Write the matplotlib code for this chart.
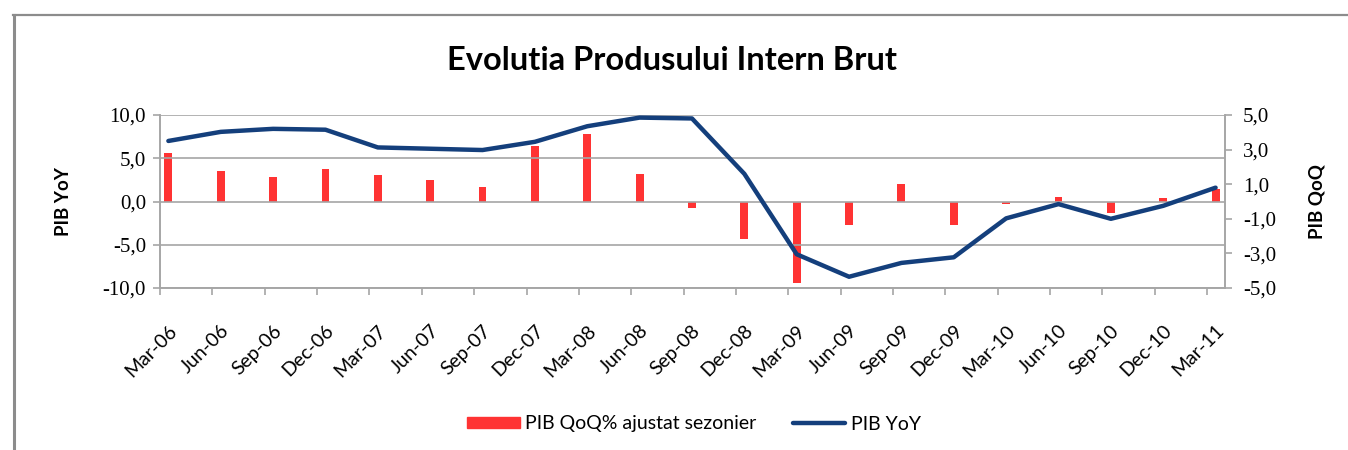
import numpy as np
import matplotlib.pyplot as plt
from matplotlib.lines import Line2D
from matplotlib.transforms import ScaledTranslation

# quarterly labels
quarters = ['Mar-06', 'Jun-06', 'Sep-06', 'Dec-06', 'Mar-07', 'Jun-07', 'Sep-07',
            'Dec-07', 'Mar-08', 'Jun-08', 'Sep-08', 'Dec-08', 'Mar-09', 'Jun-09',
            'Sep-09', 'Dec-09', 'Mar-10', 'Jun-10', 'Sep-10', 'Dec-10', 'Mar-11']

# PIB YoY (left axis, line)
pib_yoy = [7.0, 8.05, 8.4, 8.3, 6.25, 6.1, 5.95, 6.9, 8.7, 9.7, 9.6, 3.2,
           -6.1, -8.7, -7.1, -6.45, -1.95, -0.3, -2.0, -0.5, 1.6]

# PIB QoQ% ajustat sezonier (right axis, bars)
pib_qoq = [2.8, 1.75, 1.43, 1.88, 1.51, 1.22, 0.82, 3.23, 3.9, 1.59, -0.39, -2.19,
           -4.71, -1.36, 0.99, -1.38, -0.16, 0.24, -0.65, 0.18, 0.7]

left_ticks = [-10, -5, 0, 5, 10]
right_ticks = [-5, -3, -1, 1, 3, 5]

red = '#FF3333'
navy = '#143F7C'
grid_gray = '#A6A6A6'
label_font = 'Lato'
num_font = 'Liberation Serif'

fig = plt.figure(figsize=(13.48, 4.5), dpi=100)
ax = fig.add_axes([160 / 1348, 1 - 288 / 450, (1225 - 160) / 1348, (288 - 115) / 450])
ax2 = ax.twinx()

x = np.arange(len(quarters))
ax2.bar(x, pib_qoq, width=0.15, color=red, zorder=2)
ax.plot(x, pib_yoy, color=navy, lw=3.2, solid_capstyle='round', solid_joinstyle='round', zorder=3)

# line axis drawn above bars
ax.set_zorder(ax2.get_zorder() + 1)
ax.patch.set_visible(False)

ax.set_ylim(-10, 10)
ax.set_yticks(left_ticks)
ax.set_yticklabels([f'{v:.1f}'.replace('.', ',') for v in left_ticks],
                   fontfamily=num_font, fontsize=15)
ax2.set_ylim(-5, 5)
ax2.set_yticks(right_ticks)
ax2.set_yticklabels([f'{v:.1f}'.replace('.', ',') for v in right_ticks],
                    fontfamily=num_font, fontsize=15)

ax.grid(axis='y', color=grid_gray, lw=1.2, zorder=0)
ax2.grid(False)

ax.set_xlim(-0.16, len(quarters) - 1 + 0.18)
ax.set_xticks(x - 0.16)
ax.set_xticklabels(quarters, rotation=45, ha='right', va='top', rotation_mode='anchor',
                   fontfamily=label_font, fontsize=14)

for a in (ax, ax2):
    for s in a.spines.values():
        s.set_color(grid_gray)
        s.set_linewidth(1.2)
    a.spines['top'].set_visible(False)
    a.tick_params(length=5, color=grid_gray, width=1.2, labelcolor='black')
ax.tick_params(axis='y', pad=5)
ax2.tick_params(axis='y', pad=8)

# push the date labels down/right (after tick_params, which resets transforms)
shift = ScaledTranslation(0.08, -0.22, fig.dpi_scale_trans)
for lbl in ax.get_xticklabels():
    lbl.set_transform(lbl.get_transform() + shift)

ax.set_ylabel('PIB YoY', fontfamily=label_font, fontweight='bold', fontsize=13.5)
ax2.set_ylabel('PIB QoQ', fontfamily=label_font, fontweight='bold', fontsize=13.5)
ax.yaxis.set_label_coords(-0.083, 0.5)
ax2.yaxis.set_label_coords(1.078, 0.5)

fig.text(672 / 1348, 1 - 60 / 450, 'Evolutia Produsului Intern Brut', ha='center', va='center',
         fontfamily=label_font, fontweight='bold', fontsize=23.5)

# outer frame (left and top edges only)
fig.add_artist(Line2D([14 / 1348, 14 / 1348], [0, 1 - 15 / 450], color='#8C8C8C', lw=2.2,
                      transform=fig.transFigure))
fig.add_artist(Line2D([13 / 1348, 1], [1 - 15 / 450, 1 - 15 / 450], color='#8C8C8C', lw=1.6,
                      transform=fig.transFigure))

handles = [plt.Rectangle((0, 0), 1, 1, color=red),
           Line2D([], [], color=navy, lw=3.2, solid_capstyle='round')]
fig.legend(handles, ['PIB QoQ% ajustat sezonier', 'PIB YoY'], loc='center',
           bbox_to_anchor=(694 / 1348, 1 - 424 / 450), ncol=2, frameon=False,
           prop={'family': label_font, 'size': 14}, handlelength=2.7, handleheight=0.55,
           handletextpad=0.3, columnspacing=1.85)

fig.savefig('out.png', dpi=100)
